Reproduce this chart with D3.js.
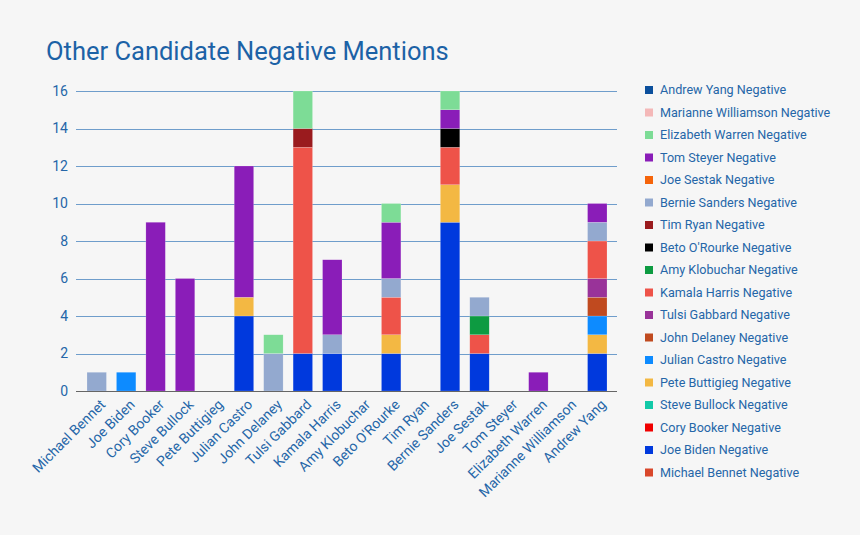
<!DOCTYPE html>
<html><head><meta charset="utf-8">
<script src="https://cdn.jsdelivr.net/npm/d3@7"></script>
<style>
html,body{margin:0;padding:0;background:#f6f6f6;}
svg{display:block;font-family:Roboto,"Noto Sans",sans-serif;}
</style></head>
<body><svg id="c" width="860" height="535"></svg>
<script>
const categories = ["Michael Bennet","Joe Biden","Cory Booker","Steve Bullock","Pete Buttigieg","Julian Castro","John Delaney","Tulsi Gabbard","Kamala Harris","Amy Klobuchar","Beto O'Rourke","Tim Ryan","Bernie Sanders","Joe Sestak","Tom Steyer","Elizabeth Warren","Marianne Williamson","Andrew Yang"];
const seriesNames = categories.map(c => c + " Negative");
const seriesColors = ["#d9472b","#0039dd","#f00000","#12c9a8","#f3b843","#0d8bff","#c04a1f","#993399","#ee5349","#0d9b41","#000000","#9a1b1e","#93a9cf","#f5640a","#8a1db8","#7ddc96","#f4b8b8","#0b4f9c"];
// values per series (one entry per category)
const michaelBennetNeg = [0,0,0,0,0,0,0,0,0,0,0,0,0,0,0,0,0,0];
const joeBidenNeg      = [0,0,0,0,0,4,0,2,2,0,2,0,9,2,0,0,0,2];
const coryBookerNeg    = [0,0,0,0,0,0,0,0,0,0,0,0,0,0,0,0,0,0];
const steveBullockNeg  = [0,0,0,0,0,0,0,0,0,0,0,0,0,0,0,0,0,0];
const peteButtigiegNeg = [0,0,0,0,0,1,0,0,0,0,1,0,2,0,0,0,0,1];
const julianCastroNeg  = [0,1,0,0,0,0,0,0,0,0,0,0,0,0,0,0,0,1];
const johnDelaneyNeg   = [0,0,0,0,0,0,0,0,0,0,0,0,0,0,0,0,0,1];
const tulsiGabbardNeg  = [0,0,0,0,0,0,0,0,0,0,0,0,0,0,0,0,0,1];
const kamalaHarrisNeg  = [0,0,0,0,0,0,0,11,0,0,2,0,2,1,0,0,0,2];
const amyKlobucharNeg  = [0,0,0,0,0,0,0,0,0,0,0,0,0,1,0,0,0,0];
const betoORourkeNeg   = [0,0,0,0,0,0,0,0,0,0,0,0,1,0,0,0,0,0];
const timRyanNeg       = [0,0,0,0,0,0,0,1,0,0,0,0,0,0,0,0,0,0];
const bernieSandersNeg = [1,0,0,0,0,0,2,0,1,0,1,0,0,1,0,0,0,1];
const joeSestakNeg     = [0,0,0,0,0,0,0,0,0,0,0,0,0,0,0,0,0,0];
const tomSteyerNeg     = [0,0,9,6,0,7,0,0,4,0,3,0,1,0,0,1,0,1];
const elizabethWarrenNeg = [0,0,0,0,0,0,1,2,0,0,1,0,1,0,0,0,0,0];
const marianneWilliamsonNeg = [0,0,0,0,0,0,0,0,0,0,0,0,0,0,0,0,0,0];
const andrewYangNeg    = [0,0,0,0,0,0,0,0,0,0,0,0,0,0,0,0,0,0];
const yTicks = [0,2,4,6,8,10,12,14,16];

const seriesValues = [michaelBennetNeg,joeBidenNeg,coryBookerNeg,steveBullockNeg,peteButtigiegNeg,julianCastroNeg,johnDelaneyNeg,tulsiGabbardNeg,kamalaHarrisNeg,amyKlobucharNeg,betoORourkeNeg,timRyanNeg,bernieSandersNeg,joeSestakNeg,tomSteyerNeg,elizabethWarrenNeg,marianneWilliamsonNeg,andrewYangNeg];

const table = categories.map((c,i) => {
  const row = {cat: c};
  seriesNames.forEach((s,j) => row[s] = seriesValues[j][i]);
  return row;
});

const svg = d3.select("#c");
svg.append("rect").attr("width",860).attr("height",535).attr("fill","#f6f6f6");

const textColor = "#2566a8";
svg.append("text").attr("x",46).attr("y",60).text("Other Candidate Negative Mentions")
  .attr("font-size",25.5).attr("fill","#1c62a6");

const x = d3.scaleBand().domain(categories).range([82,612]).paddingInner(0.34).paddingOuter(0.17);
const y = d3.scaleLinear().domain([0,16]).range([391,91]);
const gridX0 = 76, gridX1 = 617;

// gridlines
svg.append("g").selectAll("line").data(yTicks.filter(d=>d>0)).join("line")
  .attr("x1",gridX0).attr("x2",gridX1)
  .attr("y1",d=>Math.round(y(d))+0.5).attr("y2",d=>Math.round(y(d))+0.5)
  .attr("stroke","#6f9dcb").attr("stroke-width",1);

// y labels
const yAxis = d3.axisLeft(y).tickValues(yTicks).tickSize(0).tickPadding(0);
const gy = svg.append("g").attr("transform",`translate(${gridX0-8},0)`).call(yAxis);
gy.select(".domain").remove();
gy.selectAll("text").attr("font-size",14).attr("fill",textColor).attr("font-family","Roboto,sans-serif");

// stacked bars
const stack = d3.stack().keys(seriesNames);
const stacked = stack(table);
svg.append("g").selectAll("g").data(stacked).join("g")
  .attr("fill",(d,i)=>seriesColors[i])
  .selectAll("rect").data(d=>d.filter(p=>p[1]-p[0]>0)).join("rect")
  .attr("x",d=>x(d.data.cat)).attr("width",x.bandwidth())
  .attr("y",d=>y(d[1])).attr("height",d=>y(d[0])-y(d[1]))
  .attr("stroke","rgba(255,255,255,0.35)").attr("stroke-width",0.5);

// baseline
svg.append("line").attr("x1",gridX0).attr("x2",gridX1).attr("y1",391.5).attr("y2",391.5)
  .attr("stroke","#666").attr("stroke-width",1);

// x labels
const xAxis = d3.axisBottom(x).tickSize(0).tickPadding(0);
const gx = svg.append("g").attr("transform","translate(0,398)").call(xAxis);
gx.select(".domain").remove();
gx.selectAll("text")
  .attr("font-size",14).attr("fill",textColor).attr("font-family","Roboto,sans-serif")
  .attr("text-anchor","end").attr("dy","0.35em").attr("y",0)
  .attr("transform","translate(6,4) rotate(-45)");

// legend (reverse order)
const legendData = seriesNames.map((s,i)=>({name:s,color:seriesColors[i]})).reverse();
const lg = svg.append("g").selectAll("g").data(legendData).join("g")
  .attr("transform",(d,i)=>`translate(645,${90+i*22.5})`);
lg.append("rect").attr("x",0).attr("y",-4).attr("width",8).attr("height",8).attr("fill",d=>d.color);
lg.append("text").attr("x",15).attr("y",0).attr("dy","0.35em").text(d=>d.name)
  .attr("font-size",12.6).attr("fill",textColor);
</script></body></html>
